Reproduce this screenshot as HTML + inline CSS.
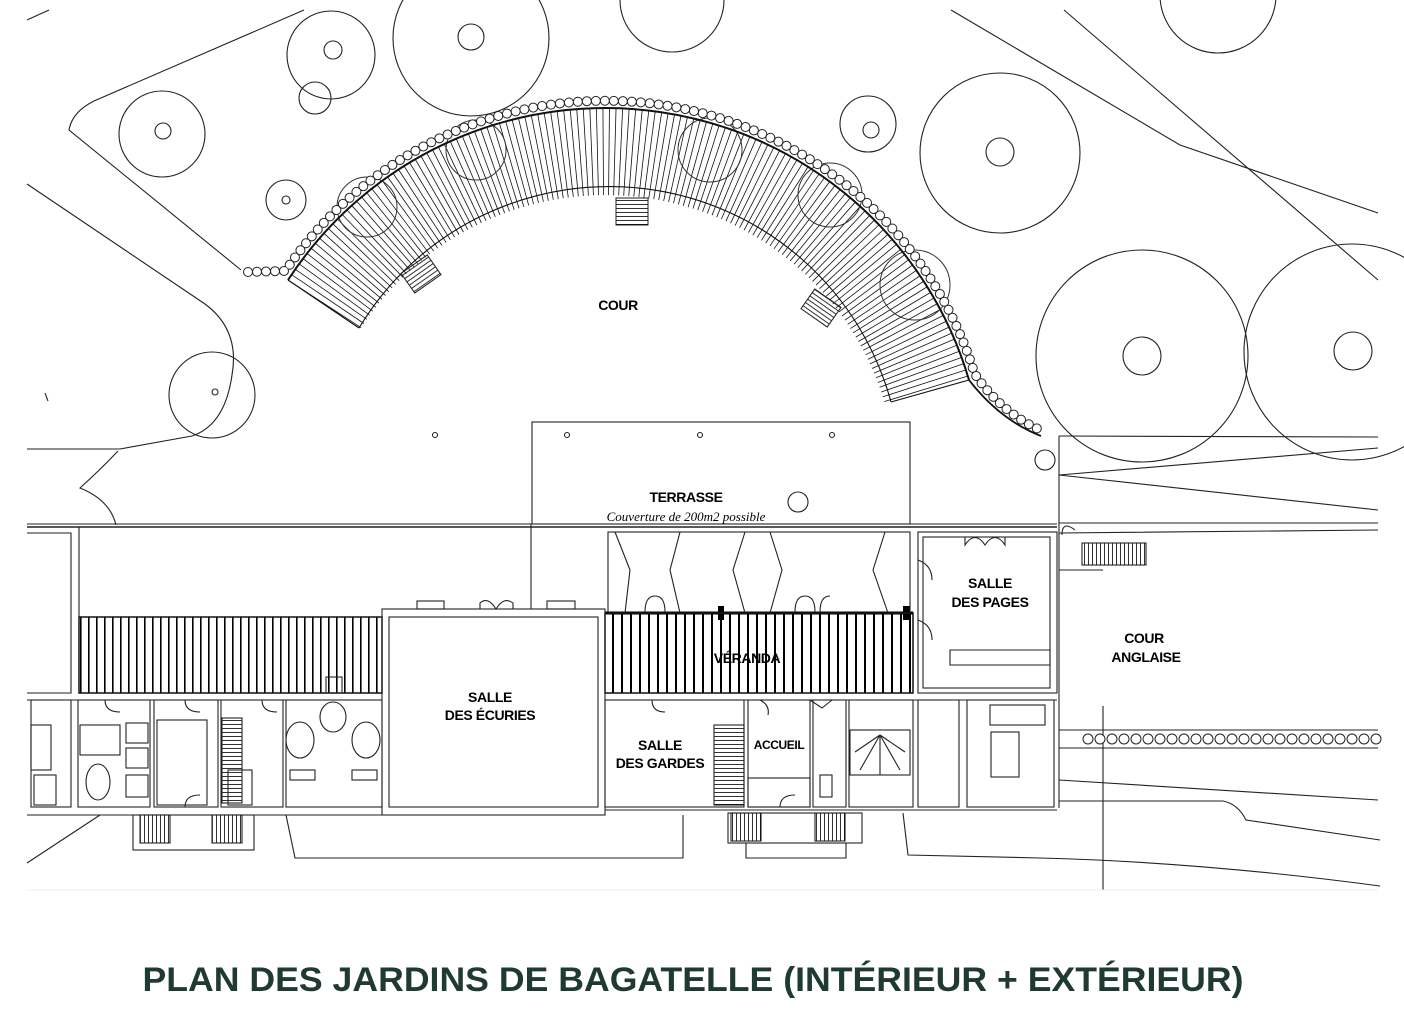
<!DOCTYPE html>
<html><head><meta charset="utf-8"><style>
html,body{margin:0;padding:0;background:#fff;width:1404px;height:1020px;overflow:hidden}
svg{display:block}
.l{font-family:"Liberation Sans",sans-serif;font-weight:bold;font-size:14px;text-anchor:middle;fill:#000;letter-spacing:-0.4px}
</style></head><body>
<svg width="1404" height="1020" viewBox="0 0 1404 1020" xmlns="http://www.w3.org/2000/svg">
<defs>
<pattern id="h" width="8" height="10" patternUnits="userSpaceOnUse"><rect x="0" y="0" width="1.6" height="10" fill="#000"/></pattern>
<pattern id="hv" width="9" height="10" patternUnits="userSpaceOnUse"><rect x="0" y="0" width="2" height="10" fill="#000"/></pattern>
<pattern id="st" width="10" height="4" patternUnits="userSpaceOnUse"><rect x="0" y="0" width="10" height="0.8" fill="#000"/></pattern>
<pattern id="stv" width="4" height="10" patternUnits="userSpaceOnUse"><rect x="0" y="0" width="0.8" height="10" fill="#000"/></pattern>
</defs>
<g fill="none" stroke="#222" stroke-width="1.1">
<path d="M27,20 L49,10"/>
<path d="M304,10 L94,101 Q72,112 69,130 L241,270"/>
<path d="M27,184 L205,304 Q240,330 232,375 Q225,425 192,436 L120,449 L27,449"/>
<path d="M118,451 Q100,470 80,488 Q110,500 116,525"/>
<path d="M45,393 l3,8"/>
<circle cx="162" cy="134" r="43"/><circle cx="163" cy="131" r="8"/>
<circle cx="331" cy="55" r="44"/><circle cx="333" cy="50" r="9"/><circle cx="315" cy="98" r="16"/>
<circle cx="471" cy="38" r="78"/><circle cx="471" cy="37" r="13"/>
<circle cx="672" cy="0" r="52"/>
<circle cx="286" cy="200" r="20"/><circle cx="286" cy="200" r="4"/>
<circle cx="212" cy="395" r="43"/><circle cx="215" cy="392" r="3"/>
<circle cx="868" cy="124" r="28"/><circle cx="871" cy="130" r="8"/>
<circle cx="1000" cy="153" r="80"/><circle cx="1000" cy="152" r="14"/>
<circle cx="1142" cy="356" r="106"/><circle cx="1142" cy="356" r="19"/>
<circle cx="1352" cy="352" r="108"/><circle cx="1353" cy="351" r="19"/>
<circle cx="1218" cy="-5" r="58"/>
<path d="M951,10 L1180,145 L1378,213"/>
<path d="M1064,10 L1378,280"/>
<path d="M1059,436 L1378,437"/>
<path d="M1059,475 L1378,448"/>
<path d="M1059,475 L1378,510"/>
<circle cx="435" cy="435" r="2.5"/><circle cx="567" cy="435" r="2.5"/><circle cx="700" cy="435" r="2.5"/><circle cx="832" cy="435" r="2.5"/>
</g>
<path d="M324.5,304.3 A335 335 0 0 1 926.9,392.1" fill="none" stroke="#111" stroke-width="87" stroke-dasharray="0.8 5" />
<g fill="none" stroke="#333" stroke-width="1">
<circle cx="367" cy="207" r="30"/><circle cx="476" cy="150" r="30"/><circle cx="710" cy="150" r="32"/><circle cx="830" cy="195" r="32"/><circle cx="915" cy="285" r="35"/>
</g>
<g fill="none" stroke="#111" stroke-width="1.1">
<path d="M288,280 A379 379 0 0 1 969,380" stroke-width="2"/>
<path d="M359,328 A292 292 0 0 1 891,402"/>
<path d="M288,280 L359,328 M969,380 L891,402"/>
<path d="M969,380 Q1000,420 1041,436" stroke-width="1.8"/>
</g>
<path d="M248,272 L285.5,270.9 A386 386 0 0 1 974.6,373.8 Q1003,415 1045,432" fill="none" stroke="#222" stroke-width="10" stroke-linecap="round" stroke-dasharray="0 9"/>
<path d="M248,272 L285.5,270.9 A386 386 0 0 1 974.6,373.8 Q1003,415 1045,432" fill="none" stroke="#fff" stroke-width="8" stroke-linecap="round" stroke-dasharray="0 9"/>
<rect x="616" y="198" width="32" height="27" fill="url(#st)" stroke="#222"/>
<rect x="405" y="262" width="32" height="24" fill="url(#st)" stroke="#222" transform="rotate(-35 421 274)"/>
<rect x="805" y="296" width="32" height="24" fill="url(#st)" stroke="#222" transform="rotate(35 821 308)"/>
<g fill="none" stroke="#222" stroke-width="1.1">
<rect x="532" y="422" width="378" height="102"/>
<circle cx="798" cy="502" r="10"/><circle cx="1045" cy="460" r="10"/>
<path d="M27,524 L1057,524"/>
<path d="M27,527 L1057,527" stroke-width="1.6"/>
<path d="M1059,436 L1059,808"/>
<path d="M1059,523 L1378,523 M1059,533 L1378,530"/>
<path d="M1059,570 L1103,570"/>
<path d="M27,533 L71,533 L71,693 L27,693"/>
<path d="M79,527 L79,617"/>
<path d="M531,524 L531,609"/>
</g>
<rect x="79" y="617" width="303" height="76" fill="url(#h)" stroke="#111" stroke-width="1.5"/>
<rect x="605" y="613" width="308" height="80" fill="url(#hv)" stroke="#111" stroke-width="1.5"/>
<path d="M605,613 L913,613" stroke="#000" stroke-width="3"/>
<rect x="718" y="606" width="6" height="14" fill="#000"/><rect x="903" y="606" width="7" height="14" fill="#000"/>
<g fill="none" stroke="#222" stroke-width="1.1">
<rect x="382" y="609" width="223" height="206"/>
<rect x="389" y="617" width="209" height="190" fill="#fff"/>
<rect x="417" y="601" width="27" height="8"/><rect x="547" y="601" width="28" height="8"/>
<path d="M480,609 L480,603 Q488,596 496,609 Q504,596 513,603 L513,609"/>
<rect x="608" y="532" width="302" height="81"/>
<path d="M615,532 L630,570 L625,613 M680,532 L670,570 L680,613 M745,532 L733,570 L745,613 M770,532 L782,570 L770,613 M885,532 L873,570 L888,613"/>
<path d="M645,612 Q645,596 655,596 Q665,596 665,612 M795,612 Q795,596 805,596 Q815,596 815,612 M820,612 Q820,596 830,596"/>
<rect x="918" y="532" width="139" height="161"/>
<rect x="923" y="537" width="127" height="151"/>
<path d="M950,650 L1050,650 L1050,665 L950,665 Z"/>
<path d="M965,537 L965,545 Q975,530 985,545 Q995,530 1005,545 L1005,537"/>
<path d="M918,560 Q932,565 932,580 M918,620 Q932,625 932,640"/>
<path d="M27,700 L382,700 M27,815 L382,815"/>
<rect x="31" y="700" width="40" height="107"/>
<rect x="78" y="700" width="72" height="107"/>
<rect x="154" y="700" width="64" height="107"/>
<rect x="221" y="700" width="62" height="107"/>
<rect x="286" y="700" width="96" height="107"/>
<rect x="31" y="725" width="20" height="45"/>
<rect x="34" y="775" width="22" height="30"/>
<rect x="80" y="725" width="40" height="30"/>
<ellipse cx="98" cy="782" rx="12" ry="18"/>
<rect x="126" y="723" width="22" height="20"/><rect x="126" y="748" width="22" height="20"/><rect x="126" y="775" width="22" height="22"/>
<rect x="157" y="720" width="50" height="85"/>
<rect x="222" y="718" width="20" height="85" fill="url(#st)"/>
<rect x="228" y="770" width="24" height="35"/>
<ellipse cx="300" cy="740" rx="14" ry="18"/><ellipse cx="366" cy="740" rx="14" ry="18"/>
<ellipse cx="333" cy="717" rx="13" ry="15"/>
<rect x="326" y="677" width="16" height="16"/>
<rect x="290" y="770" width="25" height="10"/><rect x="352" y="770" width="25" height="10"/>
<path d="M105,700 Q105,712 120,712 M185,700 Q185,712 200,712 M262,700 Q262,712 277,712 M185,807 Q185,795 200,795"/>
<path d="M605,700 L1057,700 M605,810 L1057,810"/>
<rect x="605" y="700" width="139" height="107"/>
<rect x="748" y="700" width="62" height="107"/>
<rect x="813" y="700" width="33" height="107"/>
<rect x="849" y="700" width="64" height="107"/>
<rect x="918" y="700" width="41" height="107"/>
<rect x="967" y="700" width="87" height="107"/>
<rect x="714" y="725" width="30" height="80" fill="url(#st)"/>
<rect x="748" y="778" width="62" height="29"/>
<rect x="850" y="730" width="60" height="45"/>
<path d="M880,735 L860,770 M880,735 L880,775 M880,735 L900,770 M880,735 L855,752 M880,735 L905,752"/>
<rect x="991" y="732" width="28" height="45"/>
<rect x="990" y="705" width="55" height="20"/>
<rect x="820" y="775" width="12" height="22"/>
<path d="M810,700 L822,708 L832,700 M652,700 Q652,712 665,712 M760,700 Q770,705 768,715 M780,807 Q780,795 795,795"/>
<rect x="133" y="815" width="121" height="35"/>
<rect x="140" y="815" width="30" height="28" fill="url(#stv)"/>
<rect x="212" y="815" width="30" height="28" fill="url(#stv)"/>
<path d="M286,815 L295,858 L683,858 L683,815"/>
<rect x="728" y="813" width="134" height="30"/>
<rect x="731" y="813" width="30" height="28" fill="url(#stv)"/>
<rect x="815" y="813" width="30" height="28" fill="url(#stv)"/>
<path d="M746,843 L746,858 L846,858 L846,843"/>
<path d="M100,815 L27,863"/>
<path d="M1059,801 L1223,801 Q1238,804 1246,820 L1380,840"/>
<path d="M903,813 L908,855 L1040,858 Q1200,862 1380,886"/>
<path d="M1103,706 L1103,890"/>
<rect x="1082" y="543" width="64" height="22" fill="url(#stv)"/>
<path d="M1059,730 L1378,730 M1059,748 L1378,748 M1059,780 L1378,800"/>
<path d="M1075,530 Q1062,520 1062,535"/>
<path d="M27,890 L1378,890" stroke="#eee"/>
</g>
<path d="M1088,739 L1378,739" fill="none" stroke="#222" stroke-width="11" stroke-linecap="round" stroke-dasharray="0 12"/>
<path d="M1088,739 L1378,739" fill="none" stroke="#fff" stroke-width="9" stroke-linecap="round" stroke-dasharray="0 12"/>
<text class="l" x="618" y="310">COUR</text>
<text class="l" x="686" y="502">TERRASSE</text>
<text x="686" y="521" style="font-family:'Liberation Serif',serif;font-style:italic;font-size:13px;text-anchor:middle">Couverture de 200m2 possible</text>
<text class="l" x="747" y="663">VÉRANDA</text>
<text class="l" x="990" y="588">SALLE</text><text class="l" x="990" y="607">DES PAGES</text>
<text class="l" x="1144" y="643">COUR</text><text class="l" x="1146" y="662">ANGLAISE</text>
<text class="l" x="490" y="702">SALLE</text><text class="l" x="490" y="720">DES ÉCURIES</text>
<text class="l" x="660" y="750">SALLE</text><text class="l" x="660" y="768">DES GARDES</text>
<text class="l" x="779" y="749" style="font-size:12px">ACCUEIL</text>
<text x="693" y="991" textLength="1101" lengthAdjust="spacingAndGlyphs" style="font-family:'Liberation Sans',sans-serif;font-weight:bold;font-size:34px;fill:#1f3a2e;text-anchor:middle">PLAN DES JARDINS DE BAGATELLE (INTÉRIEUR + EXTÉRIEUR)</text>
</svg>
</body></html>
